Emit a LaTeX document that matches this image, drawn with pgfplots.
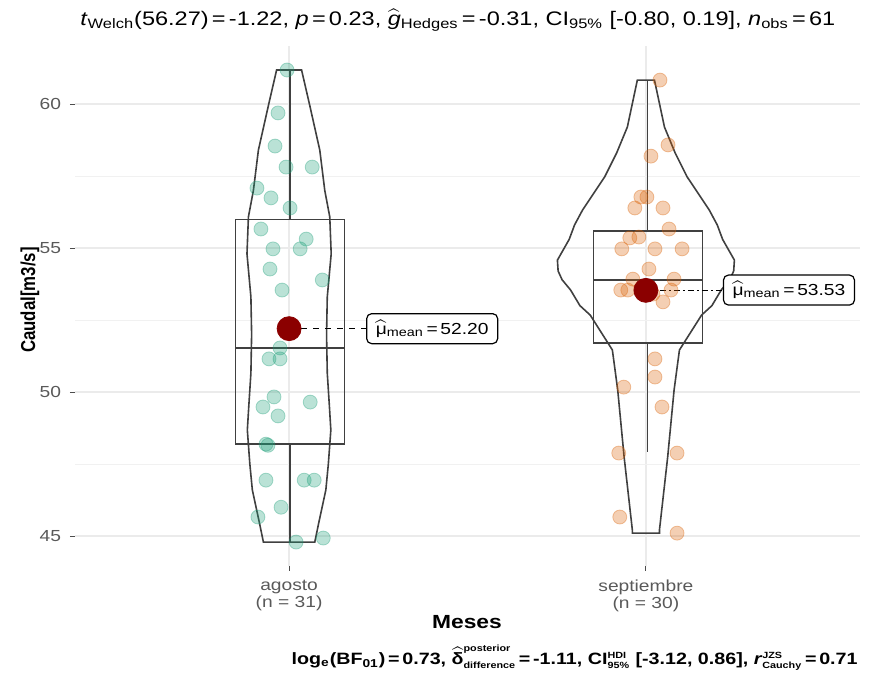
\documentclass[border=0pt]{standalone}
\usepackage{pgfplots}
\pgfplotsset{compat=1.18}
\usepackage{fontspec}
\setmainfont{Liberation Sans}[FakeStretch=1.2]
\newfontfamily\plainfont{Liberation Sans}
\definecolor{cteal}{HTML}{1B9E77}
\definecolor{corange}{HTML}{D95F02}
\definecolor{cmean}{HTML}{8B0000}
\definecolor{cgrid}{HTML}{EBEBEB}
\definecolor{cline}{HTML}{404040}
\begin{document}
\begin{tikzpicture}
\path[use as bounding box] (0pt,0pt) rectangle (437.5pt,337.5pt);
\begin{axis}[
  at={(37.5pt,54.65pt)}, anchor=south west,
  width=392.5pt, height=259.65pt, scale only axis,
  xmin=0.4, xmax=2.6, ymin=43.97, ymax=62.0,
  xtick={1,2}, xticklabels={{agosto\\(n = 31)},{septiembre\\(n = 30)}},
  ytick={45,50,55,60},
  minor ytick={47.5,52.5,57.5},
  grid=both,
  major grid style={cgrid, line width=0.6pt},
  minor grid style={cgrid!70!white, line width=0.5pt},
  axis line style={draw=none},
  tick align=outside, major tick length=2.5pt, minor tick length=0pt,
  tick style={black!70, line width=0.5pt},
  xtick pos=lower, ytick pos=left,
  /pgf/number format/assume math mode=true,
  ticklabel style={font=\fontsize{8}{8.5}\selectfont, text=black!65},
  xticklabel style={align=center, yshift=-1pt},
  yticklabel style={xshift=-1pt},
  clip=false,
]
% jittered points
\addplot[only marks, mark=*, mark size=3.5pt, mark options={fill=cteal, draw=cteal, fill opacity=0.3, draw opacity=0.35}] coordinates {
(0.9944,61.18)(0.969,59.69)(0.9606,58.54)(0.9915,57.81)(1.0648,57.81)(0.9099,57.08)(0.9493,56.74)(1.0028,56.39)(0.9211,55.66)(1.0479,55.31)(0.9549,54.97)(1.031,54.97)(0.9465,54.27)(1.093,53.89)(0.9803,53.54)(0.9746,51.53)(0.9437,51.15)(0.9746,51.15)(0.9577,49.83)(0.9268,49.48)(1.0592,49.65)(0.969,49.17)(0.9352,48.19)(0.9408,48.15)(0.9352,46.94)(1.0423,46.94)(1.0704,46.94)(0.9775,46.0)(0.9127,45.66)(1.0197,44.79)(1.0958,44.93)
};
\addplot[only marks, mark=*, mark size=3.5pt, mark options={fill=corange, draw=corange, fill opacity=0.3, draw opacity=0.35}] coordinates {
(2.0394,60.83)(2.062,58.58)(2.0141,58.19)(1.9859,56.77)(2.0028,56.77)(1.969,56.39)(2.0479,56.39)(2.0648,55.66)(1.9549,55.35)(1.9803,55.38)(1.9324,54.97)(2.0254,54.97)(2.1014,54.97)(2.0085,54.27)(1.9634,53.92)(2.0789,53.92)(1.9296,53.54)(1.9493,53.54)(2.0704,53.54)(2.0479,53.13)(2.0254,51.15)(2.0254,50.52)(1.938,50.17)(2.0451,49.48)(1.9239,47.88)(2.0873,47.88)(1.9268,45.66)(2.0873,45.10)(1.9859,53.6)(2.0197,53.4)
};
% boxplots
\addplot[cline, line width=0.7pt] coordinates {(0.85,48.19)(1.155,48.19)(1.155,56.0)(0.85,56.0)} --cycle;
\addplot[cline, line width=0.7pt] coordinates {(0.85,51.53)(1.155,51.53)};
\addplot[cline, line width=0.7pt] coordinates {(1.002,56.0)(1.002,61.18)};
\addplot[cline, line width=0.7pt] coordinates {(1.002,48.19)(1.002,44.79)};
\addplot[cline, line width=0.7pt] coordinates {(1.853,51.70)(2.158,51.70)(2.158,55.59)(1.853,55.59)} --cycle;
\addplot[cline, line width=0.7pt] coordinates {(1.853,53.89)(2.158,53.89)};
\addplot[cline, line width=0.7pt] coordinates {(2.004,55.59)(2.004,60.83)};
\addplot[cline, line width=0.7pt] coordinates {(2.004,51.70)(2.004,47.92)};
% violins
\addplot[cline, line width=0.8pt] coordinates {
(1.072,44.79)(1.083,45.45)(1.103,46.60)(1.110,47.5)(1.117,48.68)(1.113,49.5)(1.107,50.66)(1.105,52.0)(1.107,53.3)(1.118,54.8)(1.114,56.08)(1.100,57.0)(1.086,58.40)(1.057,60.0)(1.035,61.18)
(0.965,61.18)(0.943,60.0)(0.914,58.40)(0.900,57.0)(0.886,56.08)(0.882,54.8)(0.893,53.3)(0.895,52.0)(0.893,50.66)(0.887,49.5)(0.883,48.68)(0.890,47.5)(0.897,46.60)(0.917,45.45)(0.928,44.79)
} --cycle;
\addplot[cline, line width=0.8pt] coordinates {
(2.038,45.10)(2.038,45.21)(2.061,47.74)(2.079,50.07)(2.094,51.46)(2.156,52.67)(2.185,53.0)(2.211,53.54)(2.235,53.9)(2.246,54.2)(2.248,54.58)(2.215,55.3)(2.200,55.8)(2.1775,56.32)(2.1155,57.47)(2.082,58.3)(2.052,59.20)(2.024,60.83)
(1.976,60.83)(1.948,59.20)(1.918,58.3)(1.8845,57.47)(1.8225,56.32)(1.800,55.8)(1.785,55.3)(1.752,54.58)(1.754,54.2)(1.765,53.9)(1.789,53.54)(1.815,53.0)(1.844,52.67)(1.906,51.46)(1.921,50.07)(1.939,47.74)(1.962,45.21)(1.962,45.10)
} --cycle;
% connectors
\addplot[black, line width=0.6pt, dashed] coordinates {(1,52.20)(1.217,52.20)};
\addplot[black, line width=0.6pt, dash pattern=on 3pt off 1.5pt on 1pt off 1.5pt] coordinates {(2,53.53)(2.217,53.53)};
% means
\addplot[only marks, mark=*, mark size=6pt, mark options={fill=cmean, draw=cmean}] coordinates {(1,52.20)(2,53.53)};
% labels
\node[draw=black, fill=white, rounded corners=2.5pt, line width=0.6pt, minimum width=65.5pt, minimum height=15pt, inner sep=1pt, font=\fontsize{8}{9}\selectfont] at (axis cs:1.401,52.20) {\ensuremath{\widehat{\mbox{μ}}}\textsubscript{mean}\,=\,52.20};
\node[draw=black, fill=white, rounded corners=2.5pt, line width=0.6pt, minimum width=65.5pt, minimum height=15pt, inner sep=1pt, font=\fontsize{8}{9}\selectfont] at (axis cs:2.401,53.54) {\ensuremath{\widehat{\mbox{μ}}}\textsubscript{mean}\,=\,53.53};
\end{axis}
% title
\node[anchor=west, inner sep=0pt, font=\fontsize{9.8}{10}\selectfont] at (40pt,327.5pt) {\textit{t}\textsubscript{Welch}(56.27)\,=\,-1.22, \textit{p}\,=\,0.23, \ensuremath{\widehat{\mbox{\textit{g}}}}\textsubscript{Hedges}\,=\,-0.31, CI\textsubscript{95\%} [-0.80, 0.19], \textit{n}\textsubscript{obs}\,=\,61};
% caption
\node[anchor=east, inner sep=0pt, font=\fontsize{8.2}{9}\selectfont\bfseries] at (429pt,8.5pt) {log\textsubscript{e}(BF\textsubscript{01})\,=\,0.73, \ensuremath{\widehat{\mbox{δ}}^{\mbox{\fontsize{4.5}{5}\selectfont\bfseries posterior}}_{\mbox{\fontsize{4.5}{5}\selectfont\bfseries difference}}}\,=\,-1.11, CI\ensuremath{^{\mbox{\fontsize{4.5}{5}\selectfont\bfseries HDI}}_{\mbox{\fontsize{4.5}{5}\selectfont\bfseries 95\%}}} [-3.12, 0.86], \textit{r}\ensuremath{^{\mbox{\fontsize{4.5}{5}\selectfont\bfseries JZS}}_{\mbox{\fontsize{4.5}{5}\selectfont\bfseries Cauchy}}}\,=\,0.71};
% axis labels
\node[rotate=90, inner sep=0pt] at (15pt,187.5pt) {\scalebox{1}[1.2]{\plainfont\fontsize{8.4}{9}\selectfont\bfseries Caudal[m3/s]}};
\node[font=\fontsize{9.5}{10}\selectfont\bfseries] at (233.5pt,26.5pt) {Meses};
\end{tikzpicture}
\end{document}
